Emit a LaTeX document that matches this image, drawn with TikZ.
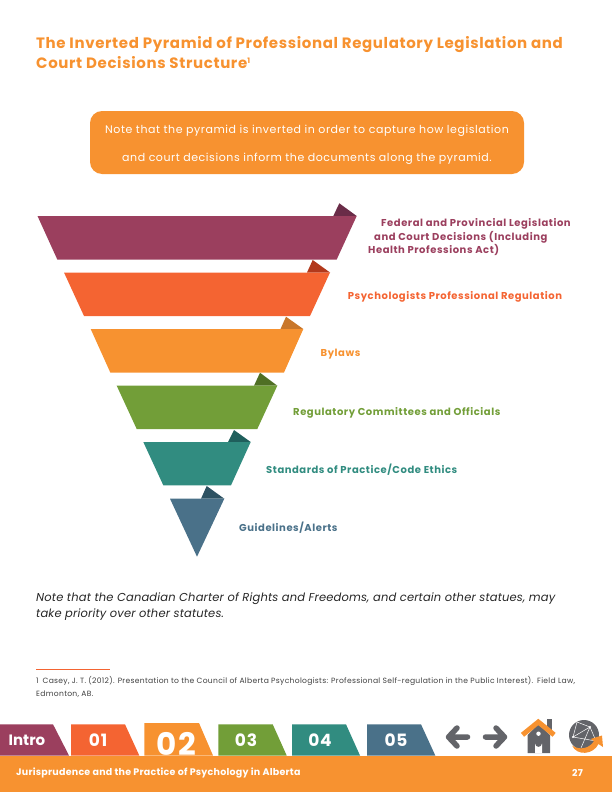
\documentclass[tikz,border=0pt]{standalone}
\usepackage{fontspec}
\setmainfont{Poppins}
\usepackage{xcolor}
\definecolor{cPlum}{RGB}{155,63,94}
\definecolor{cCoral}{RGB}{244,100,50}
\definecolor{cOrange}{RGB}{247,146,48}
\definecolor{cGreen}{RGB}{114,158,56}
\definecolor{cTeal}{RGB}{49,140,128}
\definecolor{cSlate}{RGB}{74,113,137}
\definecolor{cPlumD}{RGB}{106,44,72}
\definecolor{cCoralD}{RGB}{178,57,28}
\definecolor{cOrangeD}{RGB}{201,119,42}
\definecolor{cGreenD}{RGB}{79,111,36}
\definecolor{cTealD}{RGB}{31,95,92}
\definecolor{cSlateD}{RGB}{46,82,98}
\definecolor{cIcon}{RGB}{99,100,105}
\tikzset{
  lvltext/.style={anchor=west,align=left,inner sep=0pt,
                  font=\fontsize{10}{13.5}\selectfont\bfseries\addfontfeature{LetterSpace=5.5}},
  tabtext/.style={anchor=center,inner sep=0pt,text=white,
                  font=\fontsize{17}{17}\selectfont\bfseries\addfontfeature{LetterSpace=5}},
  bartext/.style={anchor=west,inner sep=0pt,text=white,
                  font=\fontsize{9.5}{9.5}\selectfont\bfseries\addfontfeature{LetterSpace=2.5}}
}
\begin{document}
\begin{tikzpicture}[x=1pt,y=-1pt]
  \useasboundingbox (0,0) rectangle (612,792);

  % Heading
  \node[anchor=north west,inner sep=0pt,text=cOrange,align=left,
        font=\fontsize{15}{19.5}\selectfont\bfseries\addfontfeature{LetterSpace=4.2}] (title) at (36,36.5)
      {The Inverted Pyramid of Professional Regulatory Legislation and\\
       Court Decisions Structure\raisebox{5pt}{\fontsize{7.5}{7.5}\selectfont 1}};

  % Note box
  \node[fill=cOrange,rounded corners=12pt,minimum width=434pt,minimum height=63pt,
        inner sep=0pt] (notebox) at (307,142.5) {};
  \node[inner sep=0pt,text=white,align=center,yshift=-2pt,
        font=\fontsize{11}{28}\selectfont\addfontfeature{LetterSpace=5.1}] (notetext) at (notebox.center)
      {Note that the pyramid is inverted in order to capture how legislation\\
       and court decisions inform the documents along the pyramid.};

  % Folded corners
  \fill[cPlumD] (333.3,216) -- (339.3,203.3) -- (356.7,216) -- cycle;
  \fill[cCoralD] (307,272.5) -- (312.7,260) -- (330,272.5) -- cycle;
  \fill[cOrangeD] (280.5,329) -- (286,316.7) -- (303.3,329) -- cycle;
  \fill[cGreenD] (254,385.7) -- (260,372.7) -- (277.3,385.7) -- cycle;
  \fill[cTealD] (228,442) -- (234,430) -- (250.7,442) -- cycle;
  \fill[cSlateD] (201,498.7) -- (206.7,486) -- (224.3,498.7) -- cycle;

  % Pyramid bands
  \fill[cPlum] (37.5,216) -- (356.7,216) -- (336.7,259.5) -- (57.3,259.5) -- cycle;
  \fill[cCoral] (64,272.5) -- (330,272.5) -- (310,316) -- (84,316) -- cycle;
  \fill[cOrange] (90.7,329) -- (303.3,329) -- (284,372.5) -- (110.3,372.5) -- cycle;
  \fill[cGreen] (116.7,385.7) -- (277.3,385.7) -- (257.3,429) -- (136.7,429) -- cycle;
  \fill[cTeal] (143.3,442) -- (250.7,442) -- (231,485.3) -- (163.3,485.3) -- cycle;
  \fill[cSlate] (170,498.7) -- (224.3,498.7) -- (197,556.7) -- cycle;

  % Band labels
  \node[lvltext,text=cPlum] (lvlfed) at (368,237.5)
      {\hspace*{13pt}Federal and Provincial Legislation\\
       \hspace*{6pt}and Court Decisions (Including\\
       Health Professions Act)};
  \node[lvltext,text=cCoral] (lvlpsy) at (347.7,297) {Psychologists Professional Regulation};
  \node[lvltext,text=cOrange] (lvlbyl) at (320.5,354.5) {Bylaws};
  \node[lvltext,text=cGreen] (lvlreg) at (293,412.5) {Regulatory Committees and Officials};
  \node[lvltext,text=cTeal] (lvlstd) at (266,469.5) {Standards of Practice/Code Ethics};
  \node[lvltext,text=cSlate] (lvlgui) at (239,527.5) {Guidelines/Alerts};

  % Notes under the pyramid
  \node[anchor=north west,inner sep=0pt,text=black!85,align=left,
        font=\fontsize{11.5}{16}\selectfont\itshape\addfontfeature{LetterSpace=1.3}] (charter) at (36,592.5)
      {Note that the Canadian Charter of Rights and Freedoms, and certain other statues, may\\
       take priority over other statutes.};
  \draw[cCoral,line width=0.7pt] (36,669) -- (110,669);
  \node[anchor=north west,inner sep=0pt,text=black!75,align=left,
        font=\fontsize{7.6}{12.3}\selectfont\addfontfeature{LetterSpace=3.9}] (fnote) at (36,676.5)
      {1\hspace{4pt}Casey, J. T. (2012). Presentation to the Council of Alberta Psychologists: Professional Self-regulation in the Public Interest).\hspace{4pt}Field Law,\\
       Edmonton, AB.};

  % Navigation tabs
  \fill[cPlum] (0,724.3) -- (53,724.3) -- (69,755.5) -- (0,755.5) -- cycle;
  \fill[cCoral] (71,724.3) -- (125,724.3) -- (139.3,755.5) -- (71,755.5) -- cycle;
  \fill[cOrange] (144.3,723) -- (199,723) -- (213,755.5) -- (144.3,755.5) -- cycle;
  \fill[cGreen] (218.3,724.3) -- (272.7,724.3) -- (286.7,755.5) -- (218.3,755.5) -- cycle;
  \fill[cTeal] (292,724.3) -- (346,724.3) -- (360,755.5) -- (292,755.5) -- cycle;
  \fill[cSlate] (367,724.3) -- (421,724.3) -- (435.3,755.5) -- (367,755.5) -- cycle;
  \node[tabtext,font=\fontsize{15}{15}\selectfont\bfseries] (tabintro) at (27,740.5) {Intro};
  \node[tabtext] (tabone) at (98,740) {01};
  \node[tabtext,font=\fontsize{31}{31}\selectfont\bfseries\addfontfeature{LetterSpace=6}] (tabtwo) at (176.5,744) {02};
  \node[tabtext] (tabthree) at (246,740) {03};
  \node[tabtext] (tabfour) at (320,740) {04};
  \node[tabtext] (tabfive) at (396,740) {05};

  % Footer bar
  \fill[cOrange] (0,755.5) rectangle (612,792);
  \node[bartext] (bartitle) at (16,773) {Jurisprudence and the Practice of Psychology in Alberta};
  \node[bartext] (barpage) at (572,773) {27};

  % Back and forward arrows
  \draw[cIcon,line width=5.5pt,line cap=round,line join=round]
      (467.5,737) -- (449,737) (457,728) -- (448.5,737) -- (457,746);
  \draw[cIcon,line width=5.5pt,line cap=round,line join=round]
      (485.5,737) -- (504,737) (496,728) -- (504.5,737) -- (496,746);

  % Home icon
  \fill[cIcon] (546.7,719.3) rectangle (551.7,730);
  \fill[cIcon] (538.3,724) -- (550,735) -- (550,753) -- (527.7,753) -- (527.7,735) -- cycle;
  \fill[white] (535,753) -- (535,743.5) arc[start angle=180,end angle=0,radius=3.5] -- (542,753) -- cycle;
  \fill[white] (538.5,733.7) circle[radius=2.2];
  \draw[cOrange,line width=5pt,line join=miter] (522.5,734.8) -- (538.3,722) -- (554.1,734.8);

  % Globe icon
  \fill[cIcon] (584,735) circle[radius=15];
  \draw[white,line width=0.5pt] (577,722) -- (573,737) -- (590,727) -- (596,741) -- (573,737)
      (577,722) -- (590,727) (590,727) -- (581,748);
  \fill[white] (590,727) circle[radius=1.2] (573,737) circle[radius=1.2] (596,741) circle[radius=1.2];
  \fill[cOrange] (572,745.5) .. controls (580,751) and (590,748) .. (594,741) -- (590.5,739) -- (602,735.5) -- (603,747) -- (598.5,744) .. controls (593,755) and (577,756) .. (572,745.5) -- cycle;
\end{tikzpicture}
\end{document}
